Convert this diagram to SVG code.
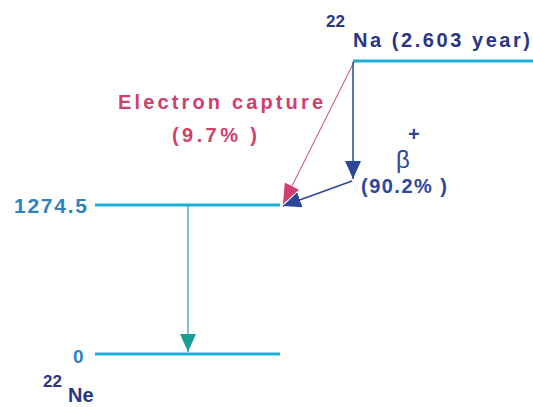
<svg xmlns="http://www.w3.org/2000/svg" width="533" height="407" viewBox="0 0 533 407">
<style>
text{font-family:"Liberation Sans",Arial,sans-serif;font-weight:bold}
.lvl{stroke:#1eaed6;stroke-width:3;fill:none}
.navy{fill:#2a3584}
.blue{fill:#2c4797}
.red{fill:#d0406e}
.lab{fill:#2f82bd}
</style>
<defs>
<marker id="ab" markerWidth="18" markerHeight="16" refX="18" refY="8" orient="auto" markerUnits="userSpaceOnUse" viewBox="0 0 18 16"><path d="M0,0 L18,8 L0,16 z" fill="#2c4797"/></marker>
<marker id="at" markerWidth="18" markerHeight="16" refX="18" refY="8" orient="auto" markerUnits="userSpaceOnUse" viewBox="0 0 18 16"><path d="M0,0 L18,8 L0,16 z" fill="#1a9e98"/></marker>
<marker id="ar2" markerWidth="20" markerHeight="16" refX="20" refY="8" orient="auto" markerUnits="userSpaceOnUse" viewBox="0 0 20 16"><path d="M0,0 L20,8 L0,16 z" fill="#d0406e"/></marker>
</defs>
<g id="na22">
<line class="lvl" x1="353" y1="61" x2="533" y2="61"/>
<text x="326" y="27" font-size="17" class="navy">22</text>
<text x="353" y="47" font-size="20" class="navy" textLength="177" lengthAdjust="spacing">Na (2.603 year)</text>
</g>
<g id="level1274">
<line class="lvl" x1="95" y1="205" x2="280" y2="205"/>
<text x="14" y="213" font-size="21" class="lab" textLength="73" lengthAdjust="spacing">1274.5</text>
</g>
<g id="level0">
<line class="lvl" x1="95" y1="354" x2="280" y2="354"/>
<text x="73" y="363" font-size="19" class="lab">0</text>
<text x="43" y="387" font-size="17" class="navy">22</text>
<text x="68" y="402" font-size="20" class="navy">Ne</text>
</g>
<g id="labels">
<text x="118" y="109" font-size="20" class="red" textLength="205" lengthAdjust="spacing">Electron capture</text>
<text x="172" y="142" font-size="20" class="red" textLength="85" lengthAdjust="spacing">(9.7% )</text>
<text x="396" y="168" font-size="24" class="blue" style="font-weight:normal">β</text>
<text x="408" y="141" font-size="20" class="blue">+</text>
<text x="361" y="193" font-size="20" class="blue" textLength="86" lengthAdjust="spacing">(90.2% )</text>
</g>
<g id="connectors">
<line x1="354" y1="62" x2="283" y2="204" stroke="#d0406e" stroke-width="1" marker-end="url(#ar2)"/>
<line x1="353" y1="62" x2="353" y2="179" stroke="#2c4797" stroke-width="1.5" marker-end="url(#ab)"/>
<line x1="352" y1="181" x2="283" y2="206" stroke="#2c4797" stroke-width="1.5" marker-end="url(#ab)"/>
<line x1="188" y1="206" x2="188" y2="352" stroke="#1a9e98" stroke-width="1.2" marker-end="url(#at)"/>
</g>
</svg>
